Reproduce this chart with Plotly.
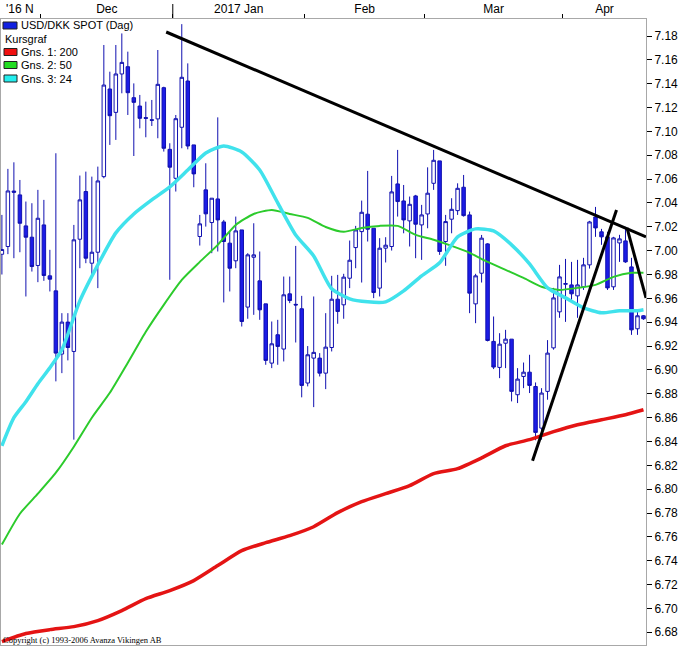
import pandas as pd
import plotly.graph_objects as go

# trading days shown (Nov 22 2016 - Apr 20 2017)
dates = pd.bdate_range("2016-11-22", "2017-04-20")
month_labels = ["'16 N", "Dec", "2017 Jan", "Feb", "Mar", "Apr"]

opens = [6.9970, 7.0035, 7.0500, 7.0468, 7.0208, 7.0113, 6.9876, 7.0216, 6.9789, 6.9663,
         6.9133, 6.9401, 6.9155, 7.0096, 7.0496, 6.9895, 6.9987, 7.0621, 7.1356, 7.1160,
         7.1482, 7.1543, 7.1283, 7.1213, 7.1116, 7.1098, 7.1105, 7.1367, 7.0850, 7.0607,
         7.1035, 7.1423, 7.0887, 7.0119, 7.0510, 7.0236, 7.0434, 7.0241, 7.0063, 6.9915,
         7.0174, 6.9527, 6.9945, 6.9747, 6.9554, 6.9057, 6.9295, 6.9175, 6.9638, 6.9550,
         6.9513, 6.8890, 6.9099, 6.9099, 6.8973, 6.9188, 6.9593, 6.9546, 6.9769, 7.0026,
         7.0160, 7.0306, 7.0188, 6.9686, 7.0021, 7.0035, 7.0560, 7.0417, 7.0250, 7.0459,
         7.0216, 7.0308, 7.0565, 7.0753, 7.0077, 7.0264, 7.0336, 7.0532, 7.0300, 6.9554,
         6.9811, 7.0057, 6.9239, 6.9021, 6.9224, 6.9258, 6.8792, 6.8945, 6.8981, 6.8861,
         6.8512, 6.8820, 6.9185, 6.9487, 6.9718, 6.9713, 6.9621, 6.9697, 6.9881, 7.0283,
         7.0158, 7.0116, 6.9697, 7.0065, 7.0082, 6.9864, 6.9345, 6.9454]
highs = [7.0300, 7.0686, 7.0741, 7.0593, 7.0412, 7.0398, 7.0510, 7.0426, 7.0007, 7.0817,
         6.9476, 6.9476, 7.0216, 7.0630, 7.0663, 7.0621, 7.0705, 7.1725, 7.1501, 7.1725,
         7.1822, 7.1669, 7.1403, 7.1306, 7.1250, 7.1264, 7.1683, 7.1375, 7.0901, 7.1138,
         7.1900, 7.1571, 7.0887, 7.0300, 7.0733, 7.0440, 7.1118, 7.0258, 7.0160, 7.0286,
         7.0174, 6.9979, 7.0230, 6.9993, 6.9554, 6.9406, 6.9420, 6.9783, 6.9783, 7.0040,
         6.9621, 6.9200, 6.9616, 6.9141, 6.9476, 6.9789, 6.9797, 6.9806, 7.0085, 7.0208,
         7.0420, 7.0669, 7.0188, 7.0105, 7.0113, 7.0627, 7.0845, 7.0551, 7.0454, 7.0468,
         7.0384, 7.0699, 7.0845, 7.0753, 7.0300, 7.0440, 7.0565, 7.0635, 7.0328, 6.9806,
         7.0132, 7.0063, 6.9448, 6.9308, 6.9336, 6.9258, 6.9015, 6.9062, 6.9127, 6.8895,
         6.8847, 6.9250, 6.9688, 6.9881, 6.9931, 6.9906, 6.9923, 6.9940, 7.0250, 7.0367,
         7.0183, 7.0158, 7.0116, 7.0133, 7.0200, 6.9940, 6.9504, 6.9460]
lows = [6.9800, 6.9971, 6.9937, 6.9987, 6.9616, 6.9825, 6.9736, 6.9747, 6.9658, 6.8904,
        6.8973, 6.9080, 6.8415, 6.9853, 6.9895, 6.9783, 6.9686, 7.0607, 7.0887, 7.0929,
        7.1320, 7.1138, 7.0794, 7.1026, 7.0951, 7.1046, 7.0943, 7.0831, 6.9756, 7.0496,
        7.0859, 7.0850, 7.0532, 7.0043, 7.0202, 6.9979, 6.9993, 6.9566, 6.9658, 6.9853,
        6.9364, 6.9429, 6.9462, 6.9420, 6.9043, 6.9015, 6.9043, 6.9071, 6.9560, 6.9230,
        6.8770, 6.8862, 6.8688, 6.8945, 6.8839, 6.9155, 6.9387, 6.9429, 6.9686, 6.9853,
        6.9733, 7.0077, 6.9602, 6.9616, 6.9901, 7.0001, 7.0286, 7.0146, 7.0035, 6.9937,
        6.9923, 7.0188, 7.0510, 6.9965, 6.9873, 7.0146, 7.0300, 7.0286, 6.9476, 6.9392,
        6.9733, 6.9239, 6.9007, 6.8931, 6.9015, 6.8736, 6.8722, 6.8847, 6.8806, 6.8410,
        6.8415, 6.8750, 6.9170, 6.9437, 6.9403, 6.9588, 6.9437, 6.9671, 6.9850, 7.0116,
        7.0049, 6.9671, 6.9671, 6.9906, 6.9898, 6.9294, 6.9294, 6.9420]
closes = [7.0010, 7.0501, 7.0490, 7.0230, 7.0113, 6.9867, 7.0272, 6.9792, 6.9761, 6.9141,
          6.9401, 6.9188, 7.0091, 7.0426, 6.9937, 6.9987, 7.0585, 7.1389, 7.1132, 7.1482,
          7.1579, 7.1325, 7.1244, 7.1110, 7.1110, 7.1094, 7.1395, 7.0859, 7.0700, 7.1107,
          7.1454, 7.0878, 7.0644, 7.0225, 7.0309, 7.0440, 7.0258, 7.0077, 6.9853, 7.0166,
          6.9406, 6.9965, 6.9965, 6.9504, 6.9080, 6.9219, 6.9197, 6.9630, 6.9582, 6.9545,
          6.8870, 6.9127, 6.9147, 6.8973, 6.9191, 6.9593, 6.9490, 6.9778, 6.9920, 7.0174,
          7.0322, 7.0180, 6.9649, 7.0021, 7.0046, 7.0493, 7.0412, 7.0258, 7.0389, 7.0222,
          7.0300, 7.0482, 7.0758, 6.9993, 7.0244, 7.0347, 7.0523, 7.0294, 6.9644, 6.9789,
          7.0105, 6.9247, 6.9024, 6.9216, 6.9258, 6.8820, 6.8923, 6.8981, 6.8870, 6.8476,
          6.8806, 6.9141, 6.9604, 6.9780, 6.9724, 6.9638, 6.9713, 6.9881, 7.0241, 7.0191,
          7.0116, 6.9688, 7.0107, 7.0099, 6.9906, 6.9336, 6.9454, 6.9429]

ma200_day = [0, 4, 8, 12, 16, 20, 24, 28, 32, 36, 40, 44, 48, 52, 56, 60, 64, 68,
             72, 76, 80, 84, 88, 92, 96, 100, 104, 107]
ma200 = [6.6722, 6.6789, 6.6822, 6.6847, 6.6898, 6.6982, 6.7082, 6.7149, 6.7233, 6.7359,
         6.7484, 6.7551, 6.7610, 6.7685, 6.7803, 6.7895, 6.7962, 6.8029, 6.8130, 6.8172,
         6.8262, 6.8364, 6.8415, 6.8482, 6.8540, 6.8582, 6.8624, 6.8666]
ma50_day = [0, 3, 6, 9, 12, 15, 18, 21, 24, 27, 30, 33, 36, 39, 42, 45, 48, 51, 54,
            57, 60, 63, 66, 69, 72, 75, 78, 81, 84, 87, 90, 93, 96, 99, 102, 105, 107]
ma50 = [6.7535, 6.7794, 6.7962, 6.8138, 6.8356, 6.8599, 6.8808, 6.9060, 6.9320, 6.9546,
        6.9755, 6.9906, 7.0049, 7.0216, 7.0308, 7.0342, 7.0308, 7.0275, 7.0199, 7.0158,
        7.0191, 7.0208, 7.0208, 7.0133, 7.0091, 7.0040, 6.9982, 6.9906, 6.9839, 6.9772,
        6.9697, 6.9671, 6.9688, 6.9713, 6.9780, 6.9814, 6.9814]
ma24_day = [0, 2, 4, 6, 8, 10, 13, 16, 19, 22, 25, 28, 31, 34, 37, 40, 43, 46, 49, 52,
            55, 58, 61, 64, 67, 70, 73, 76, 79, 82, 85, 88, 91, 94, 97, 100, 103, 106, 107]
ma24 = [6.8364, 6.8599, 6.8733, 6.8884, 6.9018, 6.9169, 6.9579, 6.9881, 7.0149, 7.0308,
        7.0426, 7.0535, 7.0677, 7.0820, 7.0878, 7.0828, 7.0677, 7.0401, 7.0132, 6.9956,
        6.9680, 6.9596, 6.9571, 6.9571, 6.9663, 6.9789, 6.9898, 7.0116, 7.0183, 7.0166,
        7.0049, 6.9889, 6.9688, 6.9604, 6.9521, 6.9479, 6.9496, 6.9496, 6.9504]

# hand-drawn trend lines (day index, price)
trend_down_day = [27.4, 107.42]
trend_down = [7.1834, 7.0116]
trend_up_day = [88.5, 102.5]
trend_up = [6.8238, 7.0342]
trend_drop_day = [104.25, 107.42]
trend_drop = [7.0191, 6.9604]

ytick_vals = [round(6.68 + 0.02 * k, 2) for k in range(26)]

WIDTH, HEIGHT = 682, 646
L, R, T, B = 1, 36, 19, 1
FONT = "Liberation Sans, Arial, sans-serif"

n = len(dates)
days = list(range(n))

# month boundaries and label centres come from the dates
bounds = [i - 0.5 for i in range(1, n) if dates[i].month != dates[i - 1].month]
year_bounds = [i - 0.5 for i in range(1, n) if dates[i].year != dates[i - 1].year]
starts = [0] + [int(b + 0.5) for b in bounds]
ends = [int(b - 0.5) for b in bounds] + [n - 1]
centers = [(s + e) / 2 for s, e in zip(starts, ends)]

fig = go.Figure()

fig.add_trace(go.Candlestick(
    x=days, open=opens, high=highs, low=lows, close=closes,
    text=[d.strftime("%Y-%m-%d") for d in dates],
    increasing=dict(line=dict(color="#1010B0", width=1), fillcolor="white"),
    decreasing=dict(line=dict(color="#1010B0", width=1), fillcolor="#1C1CE6"),
    name="USD/DKK SPOT (Dag)", showlegend=False))

for xs, ys, col, w, nm in [
        (ma200_day, ma200, "#E41414", 3.5, "Gns. 1: 200"),
        (ma50_day, ma50, "#2CCB2C", 2, "Gns. 2: 50"),
        (ma24_day, ma24, "#40E2EC", 3.5, "Gns. 3: 24")]:
    fig.add_trace(go.Scatter(x=xs, y=ys, mode="lines", name=nm, showlegend=False,
                             line=dict(color=col, width=w, shape="spline", smoothing=0.6)))

for xs, ys in [(trend_down_day, trend_down), (trend_up_day, trend_up),
               (trend_drop_day, trend_drop)]:
    fig.add_trace(go.Scatter(x=xs, y=ys, mode="lines", showlegend=False,
                             hoverinfo="skip", line=dict(color="black", width=3)))

plot_w = WIDTH - L - R
plot_h = HEIGHT - T - B


def px(x):
    return (x - L) / plot_w


def py(y):
    return (HEIGHT - B - y) / plot_h


# legend drawn by hand, like the original box in the corner
legend_rows = [("#1020E0", "USD/DKK SPOT (Dag)", 25.5, 3),
               (None, "Kursgraf", 39, 4),
               ("#F01010", "Gns. 1: 200", 52, 4),
               ("#22DD22", "Gns. 2: 50", 65, 4),
               ("#22EEEE", "Gns. 3: 24", 78.5, 4)]
shapes = []
annotations = []
for col, label, yc, x0 in legend_rows:
    if col:
        shapes.append(dict(type="rect", xref="paper", yref="paper",
                           x0=px(x0), x1=px(17), y0=py(yc - 3.5), y1=py(yc + 3.5),
                           fillcolor=col, line=dict(color="#202020", width=1)))
        tx = 19
    else:
        tx = x0 - 1
    annotations.append(dict(xref="paper", yref="paper", x=px(tx), y=py(yc),
                            xanchor="left", yanchor="middle", showarrow=False,
                            text=label, font=dict(family=FONT, size=11, color="black")))

annotations.append(dict(xref="paper", yref="paper", x=px(1), y=py(640),
                        xanchor="left", yanchor="middle", showarrow=False,
                        text="Copyright (c) 1993-2006 Avanza Vikingen AB",
                        font=dict(family="Liberation Serif, Times New Roman, serif",
                                  size=8.5, color="black")))

# taller tick at the year change
for yb in year_bounds:
    shapes.append(dict(type="line", xref="x", yref="paper", x0=yb, x1=yb,
                       y0=1 + 1 / plot_h, y1=1 + 15 / plot_h,
                       line=dict(color="black", width=1)))

fig.update_layout(
    width=WIDTH, height=HEIGHT,
    margin=dict(l=L, r=R, t=T, b=B),
    paper_bgcolor="white", plot_bgcolor="white",
    showlegend=False, boxgap=0.17,
    shapes=shapes, annotations=annotations,
    xaxis=dict(side="top", range=[-0.15, 107.42], tickmode="array",
               tickvals=centers, ticktext=month_labels, ticks="",
               showline=True, linecolor="#A8A8A8", mirror=True,
               showgrid=False, zeroline=False,
               tickfont=dict(family=FONT, size=12, color="black"),
               minor=dict(tickmode="array", tickvals=bounds, ticks="outside",
                          ticklen=4, tickcolor="black", showgrid=False),
               rangeslider=dict(visible=False)),
    yaxis=dict(side="right", range=[6.6693, 7.1943], tickmode="array",
               tickvals=ytick_vals, ticktext=[f"{v:.2f}" for v in ytick_vals],
               ticks="outside", ticklen=5, tickcolor="black",
               showline=True, linecolor="#A8A8A8", mirror=True,
               showgrid=False, zeroline=False,
               tickfont=dict(family=FONT, size=12, color="black")),
)

# the page's default body margin would push the 682x646 figure off the window
fig.write_html("out.html",
               config={"displayModeBar": False},
               post_script="document.body.style.margin='0';"
                           "document.body.style.overflow='hidden';")
